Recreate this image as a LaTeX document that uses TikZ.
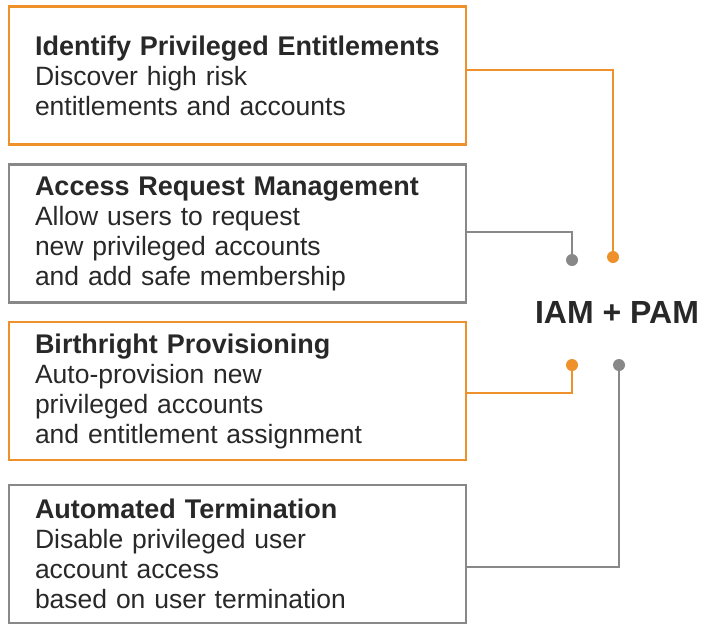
\documentclass[tikz,border=0pt]{standalone}
\usepackage{fontspec}
\setmainfont{Liberation Sans}
\usepackage{tikz}
\usetikzlibrary{calc}
\definecolor{pamorange}{RGB}{238,145,42}
\definecolor{pamgray}{RGB}{136,136,136}
\definecolor{pamtext}{RGB}{40,40,40}
\tikzstyle{stepcard}=[rectangle,minimum width=457,minimum height=138,line width=2.5pt,
  text width=405pt,inner xsep=26pt,align=left,text=pamtext,
  font=\fontsize{26.5}{30}\selectfont]
\tikzstyle{orangeline}=[draw=pamorange,line width=2pt]
\tikzstyle{grayline}=[draw=pamgray,line width=2pt]
\newcommand{\orangecard}{\node[stepcard,draw=pamorange]}
\newcommand{\graycard}{\node[stepcard,draw=pamgray]}
\newcommand{\orangedot}{\node[circle,fill=pamorange,minimum size=12pt,inner sep=0pt]}
\newcommand{\graydot}{\node[circle,fill=pamgray,minimum size=12pt,inner sep=0pt]}
\newcommand{\cardtitle}[1]{\textbf{\fontsize{27}{30}\selectfont #1}}

\begin{document}
\begin{tikzpicture}[x=1pt,y=-1pt]
          \useasboundingbox (0,0) rectangle (715,625);
          \orangecard (ident) at (237.5,75.5) {\cardtitle{Identify Privileged Entitlements}\\Discover high risk\\entitlements and accounts}; %
          \graycard (access) at (237.5,233.5) {\cardtitle{Access Request Management}\\Allow users to request\\new privileged accounts\\and add safe membership}; %
          \orangecard (birth) at (237.5,391) {\cardtitle{Birthright Provisioning}\\Auto-provision new\\privileged accounts\\and entitlement assignment}; %
          \graycard (term) at (237.5,554) {\cardtitle{Automated Termination}\\Disable privileged user\\account access\\based on user termination}; %
          \node[text=pamtext,font=\fontsize{32}{36}\selectfont\bfseries] (iampam) at (617,312) {IAM + PAM};
          \orangedot (dotident) at (613,257) {};
          \graydot (dotaccess) at (572,260) {};
          \orangedot (dotbirth) at (572,365) {};
          \graydot (dotterm) at (619,365) {};
          \draw[orangeline] ([yshift=5.5pt]ident.east) -| (dotident);
          \draw[grayline] ([yshift=1.5pt]access.east) -| (dotaccess);
          \draw[orangeline] ([yshift=-2pt]birth.east) -| (dotbirth);
          \draw[grayline] ([yshift=-13pt]term.east) -| (dotterm);
        \end{tikzpicture}
\end{document}
